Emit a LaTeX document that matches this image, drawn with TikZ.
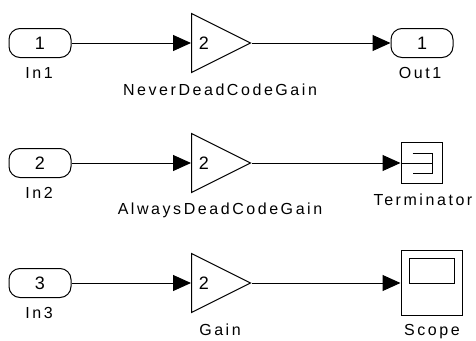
\documentclass[tikz,border=0pt]{standalone}
\usepackage{fontspec}
\setmainfont[LetterSpace=16]{Liberation Sans}
\usepackage{tikz}
\usetikzlibrary{positioning,arrows.meta,shapes.geometric}
\tikzset{
  portnode/.style={draw, rounded corners=11pt, minimum width=62pt, minimum height=29pt,
                   inner sep=0pt, font=\fontsize{18}{20}\selectfont},
  gainnode/.style={draw, isosceles triangle, isosceles triangle stretches, shape border rotate=0,
                   minimum width=59pt, minimum height=59pt, inner sep=0pt, anchor=lower side},
  gaintext/.style={inner sep=0pt, font=\fontsize{18}{20}\selectfont},
  sinknode/.style={draw, inner sep=0pt},
  namelabel/.style={inner sep=0pt, font=\fontsize{16}{18}\selectfont},
  sigline/.style={-{Triangle[length=18pt, width=16pt]}},
}
\begin{document}
\begin{tikzpicture}[x=1pt, y=-1pt, line width=1pt]
\useasboundingbox (0,0) rectangle (476,340);
% Row y-positions
\def\yOne{43}   \def\yTwo{163}   \def\yThree{283}
% Column x-positions
\def\xPort{39}  \def\xGain{191}  \def\xName{220}

%% Inports
\node[portnode] (in1) at (40, \yOne)   {1};
\node[portnode] (in2) at (40, \yTwo)   {2};
\node[portnode] (in3) at (40, \yThree) {3};

%% Gain blocks
\node[gainnode] (gain1) at (\xGain, \yOne)   {};
\node[gainnode] (gain2) at (\xGain, \yTwo)   {};
\node[gainnode] (gain3) at (\xGain, \yThree) {};
\node[gaintext] (val1) at (204, \yOne)   {2};
\node[gaintext] (val2) at (204, \yTwo)   {2};
\node[gaintext] (val3) at (204, \yThree) {2};

%% Sinks
\node[portnode] (out1) at (422, \yOne) {1};
\node[sinknode, minimum width=41pt, minimum height=41pt] (term) at (421.5, \yTwo) {};
\node[sinknode, minimum width=61pt, minimum height=65pt] (scope) at (431.5, \yThree) {};
\draw (term.center) ++(-9,-10) -- ++(20,0) -- ++(0,20) -- ++(-20,0);
\draw (term.west) -- ++(31,0);
\node[sinknode, minimum width=45pt, minimum height=25pt, anchor=north] (screen) at ([yshift=-8pt]scope.north) {};

%% Names
\node[namelabel] (nameIn1) at (\xPort, 73)  {In1};
\node[namelabel] (nameIn2) at (\xPort, 193) {In2};
\node[namelabel] (nameIn3) at (\xPort, 313) {In3};
\node[namelabel] (nameGain1) at (\xName, 90)  {NeverDeadCodeGain};
\node[namelabel] (nameGain2) at (\xName, 210) {AlwaysDeadCodeGain};
\node[namelabel] (nameGain3) at (\xName, 330) {Gain};
\node[namelabel] (nameOut1) at (420, 73)  {Out1};
\node[namelabel] (nameTerm) at (423, 200) {Terminator};
\node[namelabel] (nameScope) at (432, 332) {Scope};

%% Signals
\draw[sigline] (in1) -- (gain1.lower side);
\draw[sigline] (in2) -- (gain2.lower side);
\draw[sigline] (in3) -- (gain3.lower side);
\draw[sigline] (gain1.apex) -- (out1);
\draw[sigline] (gain2.apex) -- (term);
\draw[sigline] (gain3.apex) -- (scope);
\end{tikzpicture}
\end{document}
